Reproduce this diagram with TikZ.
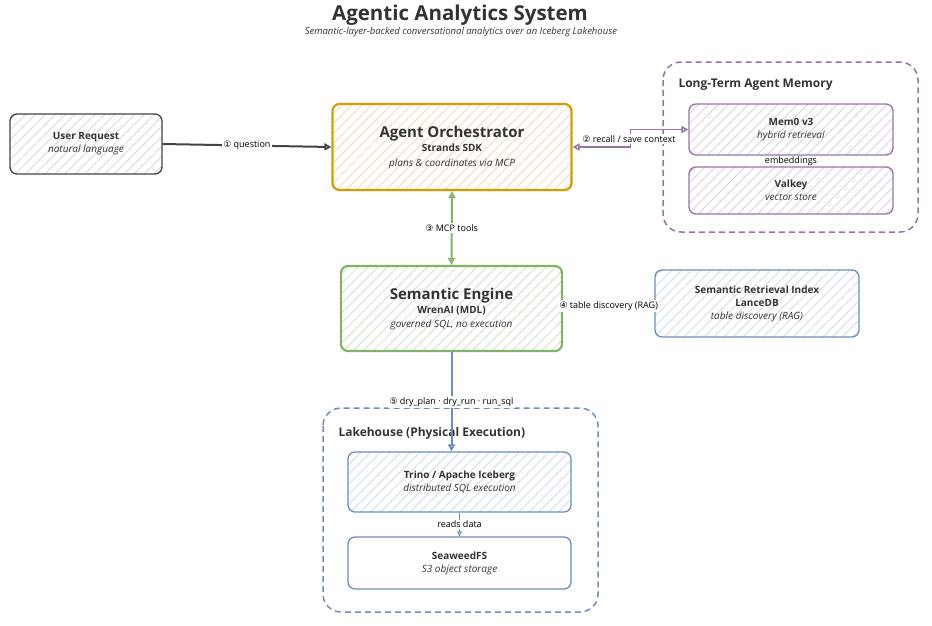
\documentclass[tikz,border=0pt]{standalone}
\usepackage{fontspec}
\setmainfont{Open Sans}
\newfontfamily\symf{DejaVu Sans}
\usetikzlibrary{arrows.meta,patterns.meta}
\definecolor{ink}{HTML}{333333}
\definecolor{orB}{HTML}{D79B00}\definecolor{orH}{HTML}{F6CFA8}
\definecolor{grB}{HTML}{82B366}\definecolor{grH}{HTML}{C8DDBA}
\definecolor{puB}{HTML}{9673A6}\definecolor{puH}{HTML}{D6C6DF}
\definecolor{blB}{HTML}{6C8EBF}\definecolor{blH}{HTML}{C6D6EC}
\definecolor{gyB}{HTML}{444444}\definecolor{gyH}{HTML}{D2D2D2}
\tikzset{
  box/.style={draw, rounded corners=7pt, line width=1.3pt, align=center, inner sep=2pt, text=ink, font=\fontsize{10}{13}\selectfont},
  hatch/.style={pattern={Lines[angle=45,distance=7pt,line width=0.7pt]}, pattern color=#1},
  cluster/.style={draw, dash pattern=on 6pt off 4pt, rounded corners=18pt, line width=1.5pt},
  lbl/.style={fill=white, inner sep=1.5pt, text=black, font=\fontsize{9}{11}\selectfont},
  otip/.tip={Triangle[open, length=7pt, width=7pt]},
  stip/.tip={Triangle[open, length=5pt, width=5pt]},
}
\begin{document}
\begin{tikzpicture}[x=1pt,y=-1pt]
\useasboundingbox (0,0) rectangle (932,625);
% title
\node[text=ink, font=\fontsize{20.5}{24}\selectfont\bfseries] (title) at (460,15) {Agentic Analytics System};
\node[text=ink, font=\fontsize{9.5}{11}\selectfont\itshape] (subtitle) at (461,32) {Semantic-layer-backed conversational analytics over an Iceberg Lakehouse};
% clusters
\draw[cluster, puB] (663,62) rectangle (918,232);
\node[anchor=west, text=ink, font=\fontsize{12}{14}\selectfont\bfseries] (memlbl) at (675,85) {Long-Term Agent Memory};
\draw[cluster, blB] (323,408) rectangle (598,612);
\node[anchor=west, text=ink, font=\fontsize{12}{14}\selectfont\bfseries] (lakelbl) at (335,433) {Lakehouse (Physical Execution)};
% nodes
\node[box, draw=gyB, hatch=gyH, minimum width=152pt, minimum height=60pt] (user) at (86,144)
  {\textbf{User Request}\\\textit{natural language}};
\node[box, draw=orB, line width=2.2pt, hatch=orH, minimum width=239pt, minimum height=86pt, font=\fontsize{10}{14.5}\selectfont] (orch) at (452,147)
  {{\fontsize{15}{17}\selectfont\bfseries Agent Orchestrator}\\\textbf{Strands SDK}\\\textit{plans \& coordinates via MCP}};
\node[box, draw=puB, hatch=puH, minimum width=204pt, minimum height=51pt] (mem) at (791,129.5)
  {\textbf{Mem0 v3}\\\textit{hybrid retrieval}};
\node[box, draw=puB, hatch=puH, minimum width=204pt, minimum height=47pt] (valkey) at (791,190.5)
  {\textbf{Valkey}\\\textit{vector store}};
\node[box, draw=grB, line width=2.2pt, hatch=grH, minimum width=221pt, minimum height=85pt, font=\fontsize{10}{14}\selectfont] (sem) at (451.5,308.5)
  {{\fontsize{15}{17}\selectfont\bfseries Semantic Engine}\\\textbf{WrenAI (MDL)}\\\textit{governed SQL, no execution}};
\node[box, draw=blB, hatch=blH, minimum width=204pt, minimum height=67pt] (sri) at (757,303.5)
  {\textbf{Semantic Retrieval Index}\\\textbf{LanceDB}\\\textit{table discovery (RAG)}};
\node[box, draw=blB, hatch=blH, minimum width=223pt, minimum height=60pt] (trino) at (459.5,482)
  {\textbf{Trino / Apache Iceberg}\\\textit{distributed SQL execution}};
\node[box, draw=blB, fill=white, minimum width=223pt, minimum height=52pt] (sea) at (459.5,563)
  {\textbf{SeaweedFS}\\\textit{S3 object storage}};
% edges
\draw[gyB, line width=2pt, -otip] (user.east) -- (orch.west)
  node[lbl, pos=0.5] {{\symf ①} question};
\draw[puB, line width=1.5pt, otip-otip] (orch.east) -- ++(58,0) coordinate (rbend) |- (mem.west);
\node[lbl] (l2) at (629,139) {{\symf ②} recall / save context};
\draw[puB, line width=1pt] (mem.south) -- (valkey.north)
  node[lbl, midway, inner sep=0.5pt] {embeddings};
\draw[grB, line width=2pt, otip-otip] (orch.south) -- (sem.north)
  node[lbl, midway] {{\symf ③} MCP tools};
\draw[blH, line width=1pt] (sem.east) -- (sri.west)
  node[lbl, midway] {{\symf ④} table discovery (RAG)};
\draw[blB, line width=2pt, -otip] (sem.south) -- (sem.south |- trino.north)
  node[lbl, pos=0.5] {{\symf ⑤} dry\_plan · dry\_run · run\_sql};
\draw[blB, line width=1pt, -stip] (trino.south) -- (sea.north)
  node[lbl, midway] {reads data};
\end{tikzpicture}
\end{document}
